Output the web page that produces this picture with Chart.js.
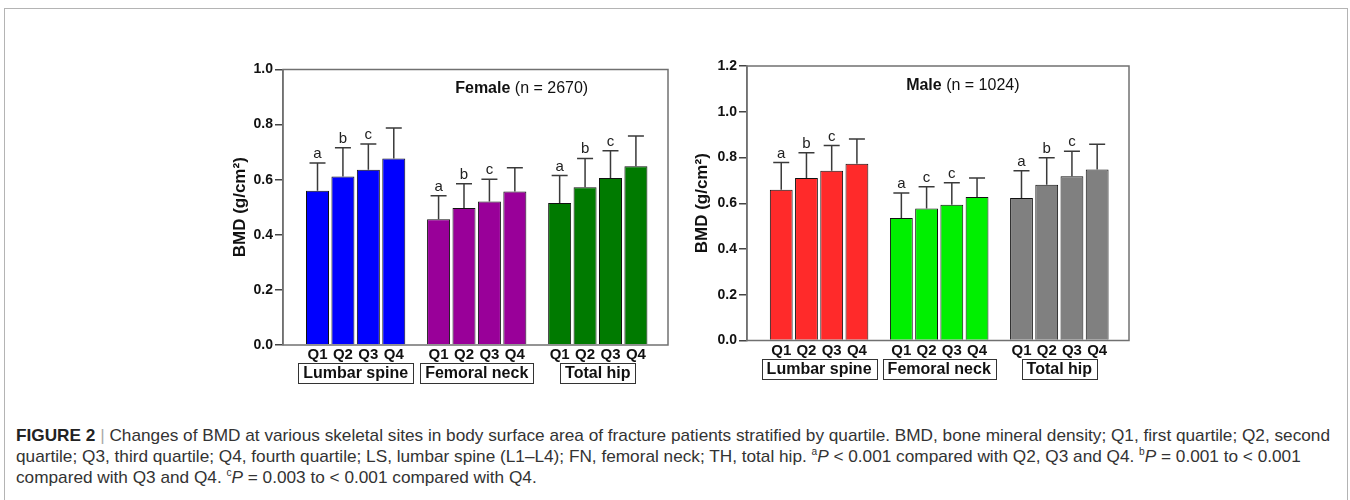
<!DOCTYPE html>
<html><head><meta charset="utf-8">
<script src="https://cdn.jsdelivr.net/npm/chart.js@4/dist/chart.umd.min.js"></script>
<style>
html,body{margin:0;padding:0;background:#fff;width:1350px;height:500px;overflow:hidden;}
#frame{position:absolute;left:4px;top:8px;width:1342px;height:520px;border:1px solid #b4b4b4;}
.cv{position:absolute;}
#cap{position:absolute;left:16px;top:425px;font-family:'Liberation Sans Narrow','Arial Narrow','Liberation Sans',Arial,sans-serif;font-size:17px;color:#333;line-height:21px;}
#cap div{white-space:nowrap;transform-origin:0 0;display:block;width:max-content;}
#cap b{color:#222;}
#cap .sep{color:#aaa;}
#cap sup{font-size:10px;line-height:0;}
</style></head><body>
<div id="frame"></div>
<div class="cv" style="left:200px;top:40px;"><canvas id="female" width="480" height="360"></canvas></div>
<div class="cv" style="left:665px;top:40px;"><canvas id="male" width="480" height="360"></canvas></div>
<div id="cap">
<div id="l1"><b>FIGURE 2</b> <span class="sep">|</span> Changes of BMD at various skeletal sites in body surface area of fracture patients stratified by quartile. BMD, bone mineral density; Q1, first quartile; Q2, second</div>
<div id="l2">quartile; Q3, third quartile; Q4, fourth quartile; LS, lumbar spine (L1–L4); FN, femoral neck; TH, total hip. <sup>a</sup><i>P</i> &lt; 0.001 compared with Q2, Q3 and Q4. <sup>b</sup><i>P</i> = 0.001 to &lt; 0.001</div>
<div id="l3">compared with Q3 and Q4. <sup>c</sup><i>P</i> = 0.003 to &lt; 0.001 compared with Q4.</div>
</div>
<script>
// ---------- data ----------
const sites = ['Lumbar spine', 'Femoral neck', 'Total hip'];
const quartiles = ['Q1', 'Q2', 'Q3', 'Q4'];
const yTicksFemale = [0.0, 0.2, 0.4, 0.6, 0.8, 1.0];
const yTicksMale = [0.0, 0.2, 0.4, 0.6, 0.8, 1.0, 1.2];

// Female (n = 2670): mean BMD per quartile, and SD (upper error bar)
const femaleLumbarMean = [0.560, 0.612, 0.636, 0.677];
const femaleLumbarSD   = [0.101, 0.104, 0.094, 0.111];
const femaleNeckMean   = [0.456, 0.497, 0.521, 0.557];
const femaleNeckSD     = [0.086, 0.088, 0.081, 0.086];
const femaleHipMean    = [0.515, 0.573, 0.606, 0.649];
const femaleHipSD      = [0.100, 0.104, 0.099, 0.110];
const femaleLumbarSig  = ['a', 'b', 'c', ''];
const femaleNeckSig    = ['a', 'b', 'c', ''];
const femaleHipSig     = ['a', 'b', 'c', ''];

// Male (n = 1024)
const maleLumbarMean = [0.659, 0.710, 0.742, 0.773];
const maleLumbarSD   = [0.119, 0.111, 0.110, 0.108];
const maleNeckMean   = [0.535, 0.577, 0.593, 0.627];
const maleNeckSD     = [0.110, 0.095, 0.097, 0.083];
const maleHipMean    = [0.623, 0.681, 0.718, 0.748];
const maleHipSD      = [0.119, 0.118, 0.109, 0.110];
const maleLumbarSig  = ['a', 'b', 'c', ''];
const maleNeckSig    = ['a', 'c', 'c', ''];
const maleHipSig     = ['a', 'b', 'c', ''];

// ---------- rendering ----------
const FONT = "'Liberation Sans', Arial, sans-serif";
Chart.defaults.font.family = FONT;

const panelPlugin = {
  id: 'panel',
  afterDatasetsDraw(chart) {
    const ctx = chart.ctx, ca = chart.chartArea, ys = chart.scales.y, xs = chart.scales.x;
    const po = chart.options.plugins.panel;
    ctx.save();
    chart.data.datasets.forEach((ds, di) => {
      const meta = chart.getDatasetMeta(di);
      meta.data.forEach((bar, i) => {
        const yTop = ys.getPixelForValue(ds.data[i].y + ds.sd[i]);
        ctx.strokeStyle = '#3a3a3a'; ctx.lineWidth = 1.5;
        ctx.beginPath();
        ctx.moveTo(bar.x, bar.y); ctx.lineTo(bar.x, yTop);
        ctx.moveTo(bar.x - 8, yTop); ctx.lineTo(bar.x + 8, yTop);
        ctx.stroke();
        ctx.textAlign = 'center';
        if (ds.sig[i]) {
          ctx.fillStyle = '#222'; ctx.font = '15px ' + FONT; ctx.textBaseline = 'alphabetic';
          ctx.fillText(ds.sig[i], bar.x, yTop - 5);
        }
        ctx.fillStyle = '#111'; ctx.font = 'bold 15px ' + FONT; ctx.textBaseline = 'middle';
        ctx.fillText(ds.label, bar.x, ca.bottom + po.qDy);
      });
    });
    // site boxes
    ctx.font = 'bold 16px ' + FONT;
    chart.data.siteNames.forEach((s, si) => {
      const cx = xs.getPixelForValue(si);
      const w = ctx.measureText(s).width + 10;
      const top = ca.bottom + po.boxDy;
      ctx.strokeStyle = '#333'; ctx.lineWidth = 1;
      ctx.strokeRect(Math.round(cx - w / 2) + 0.5, Math.round(top) + 0.5, Math.round(w), 20);
      ctx.fillStyle = '#111'; ctx.textAlign = 'center'; ctx.textBaseline = 'middle';
      ctx.fillText(s, cx, top + 11);
    });
    // frame
    ctx.strokeStyle = '#707070'; ctx.lineWidth = 1.5;
    ctx.strokeRect(ca.left, ca.top, ca.right - ca.left, ca.bottom - ca.top);
    // panel title
    const tx = ca.left + (ca.right - ca.left) * po.titleFrac, ty = ca.top + po.titleDy;
    ctx.font = 'bold 16px ' + FONT;
    const w1 = ctx.measureText(po.titleBold).width;
    ctx.font = '16px ' + FONT;
    const w2 = ctx.measureText(po.titleRest).width;
    const x0 = tx - (w1 + w2) / 2;
    ctx.textAlign = 'left'; ctx.textBaseline = 'middle'; ctx.fillStyle = '#111';
    ctx.font = 'bold 16px ' + FONT; ctx.fillText(po.titleBold, x0, ty);
    ctx.font = '16px ' + FONT; ctx.fillText(po.titleRest, x0 + w1, ty);
    ctx.restore();
  }
};

function makePanel(id, means, sds, sigs, colors, ticks, cfg) {
  const datasets = quartiles.map((q, qi) => ({
    label: q,
    data: sites.map((s, si) => ({ x: si, y: means[si][qi] })),
    sd: sites.map((s, si) => sds[si][qi]),
    sig: sites.map((s, si) => sigs[si][qi]),
    backgroundColor: colors,
    borderColor: '#111',
    borderWidth: 1,
    barPercentage: 0.905,
    categoryPercentage: 0.84
  }));
  new Chart(document.getElementById(id), {
    type: 'bar',
    data: { datasets, siteNames: sites },
    plugins: [panelPlugin],
    options: {
      responsive: false, animation: false, devicePixelRatio: 1,
      layout: { padding: cfg.pad },
      plugins: {
        legend: { display: false }, tooltip: { enabled: false },
        panel: cfg.panel
      },
      scales: {
        x: { type: 'linear', min: -0.6, max: 2.58, display: false, offset: false,
             afterBuildTicks: (sc) => { sc.ticks = sites.map((s, i) => ({ value: i })); } },
        y: {
          min: ticks[0], max: ticks[ticks.length - 1],
          afterBuildTicks: (sc) => { sc.ticks = ticks.map(v => ({ value: v })); },
          afterFit: (sc) => { sc.width = cfg.axisW; },
          border: { display: true, color: '#707070', width: 1.5 },
          grid: { drawOnChartArea: false, drawTicks: true, tickLength: 8, color: '#444', lineWidth: 1.5 },
          ticks: { padding: 2, color: '#111', font: { size: 14, weight: 'bold' }, callback: v => Number(v).toFixed(1) },
          title: { display: true, text: 'BMD (g/cm²)', color: '#111', padding: { top: 0, bottom: 0 }, font: { size: 17, weight: 'bold' } }
        }
      }
    }
  });
}

makePanel('female',
  [femaleLumbarMean, femaleNeckMean, femaleHipMean],
  [femaleLumbarSD, femaleNeckSD, femaleHipSD],
  [femaleLumbarSig, femaleNeckSig, femaleHipSig],
  ['#0000ff', '#990099', '#007a00'], yTicksFemale,
  { pad: { left: 30, top: 29.5, right: 12, bottom: 55 }, axisW: 53,
    panel: { titleBold: 'Female', titleRest: ' (n = 2670)', titleFrac: 0.62, titleDy: 19, qDy: 10, boxDy: 18 } });

makePanel('male',
  [maleLumbarMean, maleNeckMean, maleHipMean],
  [maleLumbarSD, maleNeckSD, maleHipSD],
  [maleLumbarSig, maleNeckSig, maleHipSig],
  ['#ff2a2a', '#00f000', '#808080'], yTicksMale,
  { pad: { left: 27, top: 26, right: 16, bottom: 59.5 }, axisW: 55,
    panel: { titleBold: 'Male', titleRest: ' (n = 1024)', titleFrac: 0.565, titleDy: 20, qDy: 10, boxDy: 18.5 } });

// caption: fit line 1 to the reference width
(function () {
  const l1 = document.getElementById('l1');
  const s = 1314 / l1.getBoundingClientRect().width;
  document.querySelectorAll('#cap div').forEach(d => { d.style.transform = 'scaleX(' + s + ')'; });
})();
</script>
</body></html>
